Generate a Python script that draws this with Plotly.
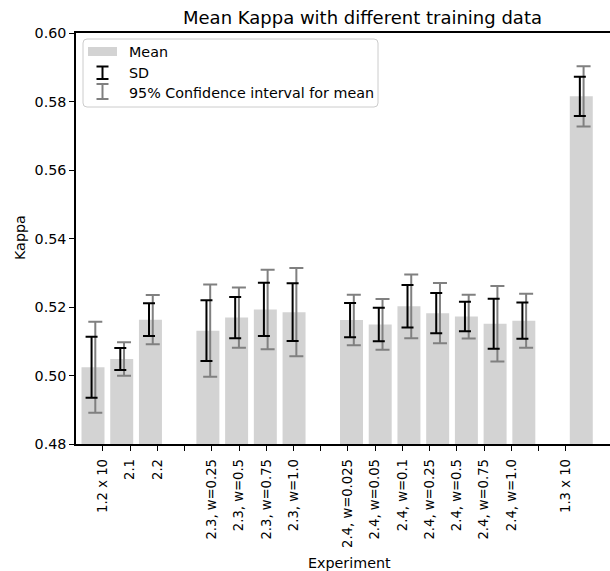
import plotly.graph_objects as go

# ---------------- data ----------------
tick_labels = ["1.2 x 10", "2.1", "2.2", "",
               "2.3, w=0.25", "2.3, w=0.5", "2.3, w=0.75", "2.3, w=1.0", "",
               "2.4, w=0.025", "2.4, w=0.05", "2.4, w=0.1", "2.4, w=0.25",
               "2.4, w=0.5", "2.4, w=0.75", "2.4, w=1.0", "",
               "1.3 x 10"]
means = [0.5024, 0.5048, 0.5163, None,
         0.5131, 0.5169, 0.5193, 0.5185, None,
         0.5162, 0.5149, 0.5202, 0.5182, 0.5172, 0.5151, 0.5160, None,
         0.5815]
sd = [0.0089, 0.0032, 0.0048, None,
      0.0089, 0.0060, 0.0078, 0.0084, None,
      0.0050, 0.0049, 0.0062, 0.0059, 0.0043, 0.0073, 0.0053, None,
      0.0057]
ci95 = [0.0133, 0.0049, 0.0072, None,
        0.0135, 0.0088, 0.0116, 0.0129, None,
        0.0074, 0.0074, 0.0093, 0.0088, 0.0064, 0.0110, 0.0079, None,
        0.0088]
yticks = [0.48, 0.50, 0.52, 0.54, 0.56, 0.58, 0.60]

BAR_COLOR = "#d3d3d3"
CI_COLOR = "#808080"
SD_COLOR = "#000000"
FONT = "DejaVu Sans"
FS = 14.3

idx = [i for i, m in enumerate(means) if m is not None]

fig = go.Figure()
fig.add_trace(go.Bar(x=idx, y=[means[i] for i in idx], width=0.8, xaxis="x2",
                     marker=dict(color=BAR_COLOR, line=dict(width=0)),
                     showlegend=False))
fig.add_trace(go.Scatter(x=[i + 0.08 for i in idx], y=[means[i] for i in idx], xaxis="x2",
                         mode="markers", marker=dict(color="rgba(0,0,0,0)", size=1),
                         error_y=dict(type="data", array=[ci95[i] for i in idx],
                                      color=CI_COLOR, thickness=2, width=7),
                         showlegend=False))
fig.add_trace(go.Scatter(x=[i - 0.05 for i in idx], y=[means[i] for i in idx], xaxis="x2",
                         mode="markers", marker=dict(color="rgba(0,0,0,0)", size=1),
                         error_y=dict(type="data", array=[sd[i] for i in idx],
                                      color=SD_COLOR, thickness=2, width=6),
                         showlegend=False))
# invisible trace to activate the tick axis
fig.add_trace(go.Scatter(x=[0], y=[0.48], mode="markers", xaxis="x",
                         marker=dict(color="rgba(0,0,0,0)", size=1),
                         showlegend=False, hoverinfo="skip"))

# layout helpers (pixel -> paper)
L, R, T, B = 76, 610, 33, 444
def px(x):
    return (x - L) / (R - L)
def py(y):
    return (B - y) / (B - T)

shapes = []
x0, x1, y0, y1, r = px(83), px(378), py(39), py(107), 4
rx, ry = r / (R - L), r / (B - T)
path = (f"M {x0+rx},{y0} L {x1-rx},{y0} Q {x1},{y0} {x1},{y0-ry} "
        f"L {x1},{y1+ry} Q {x1},{y1} {x1-rx},{y1} L {x0+rx},{y1} "
        f"Q {x0},{y1} {x0},{y1+ry} L {x0},{y0-ry} Q {x0},{y0} {x0+rx},{y0} Z")
shapes.append(dict(type="path", path=path, xref="paper", yref="paper",
                   fillcolor="rgba(255,255,255,0.8)", line=dict(color="#cccccc", width=1)))
shapes.append(dict(type="rect", xref="paper", yref="paper", x0=px(88), x1=px(117),
                   y0=py(47), y1=py(56), fillcolor=BAR_COLOR, line=dict(width=0)))
for (ya, yb, col) in [(66.5, 79, SD_COLOR), (84, 99, CI_COLOR)]:
    cx = 102.5
    shapes.append(dict(type="line", xref="paper", yref="paper", x0=px(cx), x1=px(cx),
                       y0=py(ya), y1=py(yb), line=dict(color=col, width=2)))
    for yy in (ya, yb):
        shapes.append(dict(type="line", xref="paper", yref="paper", x0=px(cx - 6), x1=px(cx + 6),
                           y0=py(yy), y1=py(yy), line=dict(color=col, width=2)))

annotations = []
for txt, yy in [("Mean", 51.5), ("SD", 72.5), ("95% Confidence interval for mean", 92.5)]:
    annotations.append(dict(text=txt, x=px(127), y=py(yy), xref="paper", yref="paper",
                            xanchor="left", yanchor="middle", showarrow=False,
                            font=dict(family=FONT, size=FS, color="black")))
annotations.append(dict(text="Mean Kappa with different training data", x=px(362), y=py(18),
                        xref="paper", yref="paper", xanchor="center", yanchor="middle",
                        showarrow=False, font=dict(family=FONT, size=18, color="black")))
annotations.append(dict(text="Kappa", x=px(20), y=py(238), xref="paper", yref="paper",
                        xanchor="center", yanchor="middle", textangle=-90, showarrow=False,
                        font=dict(family=FONT, size=FS, color="black")))
annotations.append(dict(text="Experiment", x=px(349), y=py(563), xref="paper", yref="paper",
                        xanchor="center", yanchor="middle", showarrow=False,
                        font=dict(family=FONT, size=FS, color="black")))

fig.update_layout(
    width=610, height=571,
    margin=dict(l=L, r=610 - R, t=T, b=571 - B, pad=0),
    plot_bgcolor="white", paper_bgcolor="white",
    font=dict(family=FONT, size=FS, color="black"),
    shapes=shapes, annotations=annotations,
    xaxis2=dict(overlaying="x", anchor="y", range=[-0.592, 18.0], visible=False),
)
fig.update_layout(xaxis=dict(range=[-0.984, 18.62], tickmode="array",
                 tickvals=list(range(len(tick_labels))), ticktext=tick_labels,
                 tickangle=-90, ticks="outside", ticklen=5, tickwidth=1.2, tickcolor="black",
                 ticklabelstandoff=3,
                 showline=True, linecolor="black", linewidth=1.5, mirror=True,
                 showgrid=False, zeroline=False,
                 tickfont=dict(family=FONT, size=13.2, color="black")))
fig.update_yaxes(range=[0.48, 0.60], tickmode="array", tickvals=yticks,
                 ticktext=[f"{v:.2f}" for v in yticks],
                 ticks="outside", ticklen=5, tickwidth=1.2, tickcolor="black",
                 showline=True, linecolor="black", linewidth=1.5, mirror=False,
                 showgrid=False, zeroline=False,
                 tickfont=dict(family=FONT, size=FS, color="black"))

fig.write_html("out.html")
